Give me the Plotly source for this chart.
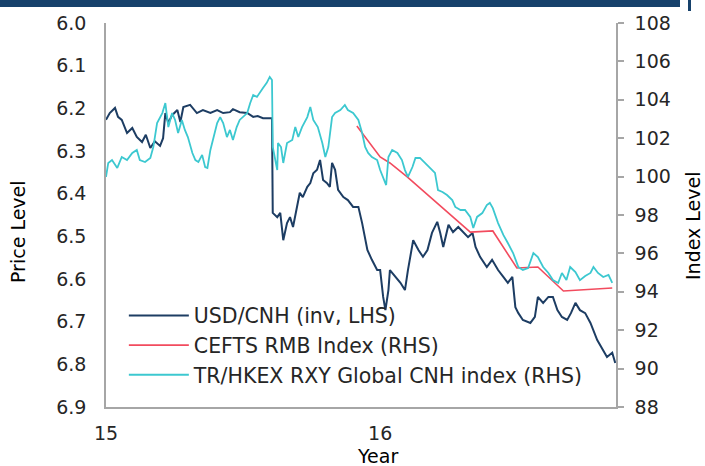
import plotly.graph_objects as go

# USD/CNH spot (inverted, left axis)
usd_cnh_dates = [
    "2015-01-01", "2015-01-06", "2015-01-13", "2015-01-17", "2015-01-22", "2015-01-29",
    "2015-02-05", "2015-02-11", "2015-02-18", "2015-02-23", "2015-03-01", "2015-03-07",
    "2015-03-14", "2015-03-18", "2015-03-21", "2015-03-25", "2015-03-30", "2015-04-06",
    "2015-04-10", "2015-04-14", "2015-04-23", "2015-04-28", "2015-05-02", "2015-05-10",
    "2015-05-20", "2015-05-29", "2015-06-06", "2015-06-15", "2015-06-19", "2015-06-28",
    "2015-07-08", "2015-07-16", "2015-07-22", "2015-07-29", "2015-08-06", "2015-08-10",
    "2015-08-11", "2015-08-17", "2015-08-21", "2015-08-25", "2015-08-30", "2015-09-03",
    "2015-09-07", "2015-09-12", "2015-09-16", "2015-09-20", "2015-09-26", "2015-09-30",
    "2015-10-04", "2015-10-09", "2015-10-13", "2015-10-17", "2015-10-22", "2015-10-26",
    "2015-10-29", "2015-11-02", "2015-11-06", "2015-11-13", "2015-11-19", "2015-11-26",
    "2015-12-03", "2015-12-08", "2015-12-15", "2015-12-21", "2015-12-28", "2016-01-01",
    "2016-01-05", "2016-01-08", "2016-01-12", "2016-01-14", "2016-01-21", "2016-01-28",
    "2016-02-03", "2016-02-07", "2016-02-14", "2016-02-21", "2016-02-27", "2016-03-04",
    "2016-03-10", "2016-03-17", "2016-03-21", "2016-03-25", "2016-04-01", "2016-04-07",
    "2016-04-14", "2016-04-21", "2016-04-27", "2016-05-03", "2016-05-07", "2016-05-13",
    "2016-05-22", "2016-05-29", "2016-06-06", "2016-06-13", "2016-06-19", "2016-06-25",
    "2016-06-29", "2016-07-03", "2016-07-09", "2016-07-19", "2016-07-25", "2016-07-29",
    "2016-08-05", "2016-08-12", "2016-08-18", "2016-08-24", "2016-08-30", "2016-09-06",
    "2016-09-11", "2016-09-17", "2016-09-23", "2016-09-30", "2016-10-07", "2016-10-16",
    "2016-10-24", "2016-10-29", "2016-11-05", "2016-11-09",
]
usd_cnh_values = [
    6.227, 6.211, 6.199, 6.220, 6.227, 6.258,
    6.246, 6.267, 6.279, 6.262, 6.293, 6.277,
    6.288, 6.270, 6.211, 6.234, 6.216, 6.204,
    6.232, 6.197, 6.192, 6.204, 6.211, 6.204,
    6.211, 6.204, 6.211, 6.209, 6.202, 6.209,
    6.211, 6.220, 6.218, 6.223, 6.223, 6.223,
    6.445, 6.455, 6.445, 6.509, 6.469, 6.455,
    6.478, 6.438, 6.398, 6.408, 6.384, 6.375,
    6.352, 6.344, 6.321, 6.368, 6.375, 6.384,
    6.328, 6.344, 6.391, 6.408, 6.415, 6.431,
    6.431, 6.469, 6.532, 6.555, 6.579, 6.579,
    6.642, 6.673, 6.626, 6.579, 6.595, 6.609,
    6.626, 6.579, 6.509, 6.532, 6.548, 6.532,
    6.492, 6.466, 6.492, 6.525, 6.473, 6.490,
    6.478, 6.492, 6.502, 6.492, 6.525, 6.548,
    6.572, 6.555, 6.579, 6.595, 6.609, 6.595,
    6.666, 6.680, 6.696, 6.703, 6.689, 6.642,
    6.656, 6.642, 6.642, 6.673, 6.689, 6.696,
    6.680, 6.656, 6.673, 6.680, 6.703, 6.743,
    6.766, 6.783, 6.773, 6.797,
]

# CFETS RMB index (right axis)
cfets_dates = [
    "2015-12-01", "2016-01-01", "2016-01-14", "2016-02-06", "2016-04-30",
    "2016-05-30", "2016-07-01", "2016-07-29", "2016-09-01", "2016-11-05",
]
cfets_values = [102.64, 101.02, 100.71, 99.98, 97.11, 97.17, 95.24, 95.29, 94.04, 94.20]

# TR/HKEX RXY Global CNH index (right axis)
rxy_dates = [
    "2015-01-01", "2015-01-04", "2015-01-09", "2015-01-16", "2015-01-22", "2015-01-29",
    "2015-02-05", "2015-02-11", "2015-02-15", "2015-02-22", "2015-03-01", "2015-03-05",
    "2015-03-10", "2015-03-17", "2015-03-21", "2015-03-25", "2015-03-30", "2015-04-03",
    "2015-04-07", "2015-04-12", "2015-04-16", "2015-04-20", "2015-04-26", "2015-04-30",
    "2015-05-04", "2015-05-09", "2015-05-13", "2015-05-16", "2015-05-20", "2015-05-24",
    "2015-05-29", "2015-06-02", "2015-06-06", "2015-06-11", "2015-06-15", "2015-06-19",
    "2015-06-24", "2015-06-28", "2015-07-02", "2015-07-08", "2015-07-12", "2015-07-16",
    "2015-07-21", "2015-07-25", "2015-07-29", "2015-08-03", "2015-08-07", "2015-08-10",
    "2015-08-11", "2015-08-17", "2015-08-18", "2015-08-22", "2015-08-25", "2015-08-30",
    "2015-09-06", "2015-09-10", "2015-09-14", "2015-09-19", "2015-09-26", "2015-09-30",
    "2015-10-04", "2015-10-10", "2015-10-16", "2015-10-20", "2015-10-24", "2015-10-29",
    "2015-11-02", "2015-11-09", "2015-11-15", "2015-11-19", "2015-11-26", "2015-12-03",
    "2015-12-08", "2015-12-12", "2015-12-16", "2015-12-21", "2015-12-28", "2016-01-01",
    "2016-01-05", "2016-01-09", "2016-01-12", "2016-01-17", "2016-01-24", "2016-01-30",
    "2016-02-03", "2016-02-07", "2016-02-13", "2016-02-17", "2016-02-23", "2016-03-01",
    "2016-03-08", "2016-03-14", "2016-03-18", "2016-03-24", "2016-03-30", "2016-04-06",
    "2016-04-10", "2016-04-17", "2016-04-23", "2016-04-30", "2016-05-04", "2016-05-09",
    "2016-05-16", "2016-05-22", "2016-05-26", "2016-05-30", "2016-06-06", "2016-06-13",
    "2016-06-19", "2016-06-26", "2016-07-03", "2016-07-09", "2016-07-16", "2016-07-23",
    "2016-07-29", "2016-08-05", "2016-08-12", "2016-08-18", "2016-08-25", "2016-08-30",
    "2016-09-05", "2016-09-10", "2016-09-17", "2016-09-23", "2016-09-30", "2016-10-07",
    "2016-10-11", "2016-10-17", "2016-10-24", "2016-10-31", "2016-11-05",
]
rxy_values = [
    99.98, 100.71, 100.86, 100.45, 101.02, 100.86,
    101.23, 101.39, 100.86, 100.76, 100.97, 101.54,
    102.79, 103.31, 103.83, 102.58, 103.31, 102.95,
    102.27, 102.95, 102.43, 102.06, 101.23, 100.86,
    100.76, 101.13, 100.50, 100.45, 101.39, 102.06,
    102.79, 103.10, 102.79, 102.06, 102.43, 101.91,
    102.58, 102.95, 103.10, 103.31, 103.83, 104.25,
    104.15, 104.35, 104.61, 104.88, 105.19, 105.03,
    101.54, 100.34, 101.75, 101.54, 100.71, 101.75,
    101.91, 102.58, 102.06, 102.58, 103.10, 103.63,
    102.95, 102.58, 101.75, 101.02, 101.54, 103.10,
    103.31, 103.47, 103.73, 103.47, 103.31, 102.95,
    102.27, 101.54, 101.23, 101.02, 100.86, 100.34,
    99.98, 99.56, 101.02, 101.39, 101.23, 100.86,
    100.34, 99.98, 100.50, 100.97, 100.97, 100.71,
    100.45, 100.19, 99.30, 99.20, 99.04, 98.78,
    98.42, 98.26, 98.26, 97.90, 97.32, 97.90,
    98.10, 98.52, 98.63, 98.36, 97.58, 96.96,
    96.54, 96.02, 95.29, 95.14, 95.24, 96.02,
    95.81, 95.29, 94.98, 94.61, 94.46, 94.98,
    94.61, 95.29, 95.03, 94.61, 94.82, 94.98,
    95.29, 94.98, 94.77, 94.88, 94.46,
]

left_ticks = [6.0, 6.1, 6.2, 6.3, 6.4, 6.5, 6.6, 6.7, 6.8, 6.9]
right_ticks = [88, 90, 92, 94, 96, 98, 100, 102, 104, 106, 108]
year_ticks = ["2015-01-01", "2016-01-01"]
year_labels = ["15", "16"]

NAVY = "#1d3d63"
RED = "#f24b5e"
CYAN = "#3cc8d0"
AXIS_GREY = "#a6a6a6"
TEXT = "#262626"
FONT = "DejaVu Sans, Verdana, sans-serif"
FS = 19
LEGEND_FS = 20.5

fig = go.Figure()
fig.add_trace(go.Scatter(
    x=usd_cnh_dates, y=usd_cnh_values, name="USD/CNH (inv, LHS)",
    mode="lines", line=dict(color=NAVY, width=2), yaxis="y", legendgroup="a",
))
fig.add_trace(go.Scatter(
    x=cfets_dates, y=cfets_values, name="CEFTS RMB Index (RHS)",
    mode="lines", line=dict(color=RED, width=1.6), yaxis="y2", legendgroup="b",
))
fig.add_trace(go.Scatter(
    x=rxy_dates, y=rxy_values, name="TR/HKEX RXY Global CNH index (RHS)",
    mode="lines", line=dict(color=CYAN, width=1.8), yaxis="y2", legendgroup="c",
))

fig.update_layout(
    width=705, height=466,
    margin=dict(l=106, r=89, t=23, b=59),
    paper_bgcolor="white", plot_bgcolor="white",
    font=dict(family=FONT, size=FS, color=TEXT),
    showlegend=True,
    legend=dict(
        x=0.035, y=0.29, xanchor="left", yanchor="top",
        bgcolor="rgba(0,0,0,0)", borderwidth=0,
        font=dict(family=FONT, size=LEGEND_FS, color=TEXT),
        tracegroupgap=10, itemwidth=60, traceorder="normal",
    ),
    xaxis=dict(
        type="date", range=["2015-01-01", "2016-11-10"],
        tickvals=year_ticks, ticktext=year_labels,
        showgrid=False, zeroline=False,
        showline=True, linecolor=AXIS_GREY, linewidth=1.5,
        ticks="outside", ticklen=8, tickcolor="rgba(0,0,0,0)",
        tickfont=dict(size=FS, color=TEXT),
    ),
    yaxis=dict(
        range=[6.9, 6.0], tickvals=left_ticks, tickformat=".1f",
        showgrid=False, zeroline=False,
        showline=True, linecolor=AXIS_GREY, linewidth=1.5,
        ticks="", ticklabelstandoff=14,
        tickfont=dict(size=FS, color=TEXT),
    ),
    yaxis2=dict(
        overlaying="y", side="right", range=[88, 108], tickvals=right_ticks,
        showgrid=False, zeroline=False,
        showline=True, linecolor=AXIS_GREY, linewidth=1.5,
        ticks="outside", ticklen=6, tickcolor=AXIS_GREY, tickwidth=1.5,
        ticklabelstandoff=7,
        tickfont=dict(size=FS, color=TEXT),
    ),
    shapes=[
        dict(type="rect", xref="paper", yref="paper",
             x0=-106 / 510, x1=574 / 510, y0=400 / 384, y1=407 / 384,
             fillcolor="#16416b", line=dict(width=0), layer="above"),
        dict(type="rect", xref="paper", yref="paper",
             x0=582 / 510, x1=585 / 510, y0=396 / 384, y1=407 / 384,
             fillcolor="#16416b", line=dict(width=0), layer="above"),
    ],
    annotations=[
        dict(text="Price Level", xref="paper", yref="paper",
             x=(18 - 106) / 510, y=(407 - 232) / 384, textangle=-90,
             xanchor="center", yanchor="middle",
             showarrow=False, font=dict(size=FS, color="#000000")),
        dict(text="Index Level", xref="paper", yref="paper",
             x=(693 - 106) / 510, y=(407 - 226) / 384, textangle=-90,
             xanchor="center", yanchor="middle",
             showarrow=False, font=dict(size=FS, color="#000000")),
        dict(text="Year", xref="paper", yref="paper",
             x=(377 - 106) / 510, y=(407 - 456) / 384,
             xanchor="center", yanchor="middle",
             showarrow=False, font=dict(size=FS, color="#000000")),
    ],
)

fig.write_html("out.html")
